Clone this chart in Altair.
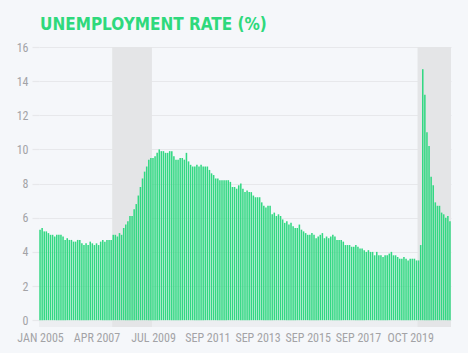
import altair as alt
import pandas as pd

rates = [
    5.3, 5.4, 5.2, 5.2, 5.1, 5.0, 5.0, 4.9, 5.0, 5.0, 5.0, 4.9,   # 2005
    4.7, 4.8, 4.7, 4.7, 4.6, 4.6, 4.7, 4.7, 4.5, 4.4, 4.5, 4.4,   # 2006
    4.6, 4.5, 4.4, 4.5, 4.4, 4.6, 4.7, 4.6, 4.7, 4.7, 4.7, 5.0,   # 2007
    5.0, 4.9, 5.1, 5.0, 5.4, 5.6, 5.8, 6.1, 6.1, 6.5, 6.8, 7.3,   # 2008
    7.8, 8.3, 8.7, 9.0, 9.4, 9.5, 9.5, 9.6, 9.8, 10.0, 9.9, 9.9,  # 2009
    9.8, 9.8, 9.9, 9.9, 9.6, 9.4, 9.4, 9.5, 9.5, 9.4, 9.8, 9.3,   # 2010
    9.1, 9.0, 9.0, 9.1, 9.0, 9.1, 9.0, 9.0, 9.0, 8.8, 8.6, 8.5,   # 2011
    8.3, 8.3, 8.2, 8.2, 8.2, 8.2, 8.2, 8.1, 7.8, 7.8, 7.7, 7.9,   # 2012
    8.0, 7.7, 7.5, 7.6, 7.5, 7.5, 7.3, 7.2, 7.2, 7.2, 6.9, 6.7,   # 2013
    6.6, 6.7, 6.7, 6.2, 6.3, 6.1, 6.2, 6.1, 5.9, 5.7, 5.8, 5.6,   # 2014
    5.7, 5.5, 5.4, 5.4, 5.6, 5.3, 5.2, 5.1, 5.0, 5.0, 5.1, 5.0,   # 2015
    4.8, 4.9, 5.0, 5.1, 4.8, 4.9, 4.8, 4.9, 5.0, 4.9, 4.7, 4.7,   # 2016
    4.7, 4.6, 4.4, 4.4, 4.4, 4.3, 4.3, 4.4, 4.3, 4.2, 4.2, 4.1,   # 2017
    4.0, 4.1, 4.0, 4.0, 3.8, 4.0, 3.8, 3.8, 3.7, 3.8, 3.8, 3.9,   # 2018
    4.0, 3.8, 3.8, 3.7, 3.6, 3.6, 3.7, 3.6, 3.5, 3.6, 3.6, 3.6,   # 2019
    3.5, 3.5, 4.4, 14.7, 13.2, 11.0, 10.2, 8.4, 7.9, 6.9, 6.7, 6.7,  # 2020
    6.3, 6.2, 6.0, 6.1, 5.8,                                       # 2021
]
month_names = ["JAN", "FEB", "MAR", "APR", "MAY", "JUN",
               "JUL", "AUG", "SEP", "OCT", "NOV", "DEC"]
start_year = 2005

tick_labels = ["JAN 2005", "APR 2007", "JUL 2009", "SEP 2011",
               "SEP 2013", "SEP 2015", "SEP 2017", "OCT 2019"]
y_ticks = [0, 2, 4, 6, 8, 10, 12, 14, 16]

recession_starts = ["DEC 2007", "FEB 2020"]
recession_ends = ["JUN 2009", "MAY 2021"]

labels = [f"{month_names[i % 12]} {start_year + i // 12}" for i in range(len(rates))]
index_of = {lab: i for i, lab in enumerate(labels)}

df = pd.DataFrame({"idx": list(range(len(rates))), "label": labels, "rate": rates})
rec = pd.DataFrame({
    "s": [index_of[s] for s in recession_starts],
    "e": [index_of[e] for e in recession_ends],
})
strip = pd.DataFrame({"s": [0], "e": [len(rates) - 1]})

tick_idx = [index_of[t] for t in tick_labels]
label_expr = "''"
for i, t in zip(reversed(tick_idx), reversed(tick_labels)):
    label_expr = f"datum.value == {i} ? '{t}' : ({label_expr})"

xdom = [-0.5, len(rates) - 0.5]
ydom = [-0.4, 16]
FONT = "DejaVu Sans Condensed, Roboto, sans-serif"
LFONT = "Roboto Condensed, DejaVu Sans Condensed, Roboto, sans-serif"

xscale = alt.Scale(domain=xdom, nice=False, zero=False)
yscale = alt.Scale(domain=ydom, nice=False, zero=False)

xaxis = alt.Axis(values=tick_idx, labelExpr=label_expr, title=None,
                 grid=False, ticks=False, domain=False,
                 labelFont=LFONT, labelFontSize=12, labelColor="#a3a3a6",
                 labelPadding=5, labelOverlap=False, labelFlush=False)
yaxis = alt.Axis(values=y_ticks, title=None, domain=False,
                 grid=True, gridColor="#e7e8eb", gridWidth=1.2,
                 ticks=True, tickSize=7, tickColor="#e7e8eb", tickWidth=1.2,
                 labelFont=LFONT, labelFontSize=12, labelColor="#a3a3a6",
                 labelPadding=4)

base_strip = alt.Chart(strip).transform_calculate(
    x0="datum.s - 0.5", x1="datum.e + 0.5", y0="-0.4", y1="0"
).mark_rect(color="#eceef1").encode(
    x=alt.X("x0:Q", scale=xscale, axis=xaxis),
    x2="x1:Q",
    y=alt.Y("y0:Q", scale=yscale, axis=yaxis),
    y2="y1:Q",
)

shade = alt.Chart(rec).transform_calculate(
    x0="datum.s - 0.5", x1="datum.e + 0.5", y0="-0.4", y1="16"
).mark_rect(color="#e4e5e7").encode(
    x=alt.X("x0:Q", scale=xscale, axis=xaxis),
    x2="x1:Q",
    y=alt.Y("y0:Q", scale=yscale, axis=yaxis),
    y2="y1:Q",
)

bars = alt.Chart(df).transform_calculate(
    x0="datum.idx - 0.37", x1="datum.idx + 0.37", zero="0"
).mark_rect(color="#33d883").encode(
    x=alt.X("x0:Q", scale=xscale, axis=xaxis),
    x2="x1:Q",
    y=alt.Y("rate:Q", scale=yscale, axis=yaxis),
    y2="zero:Q",
)

chart = alt.layer(base_strip, shade, bars).properties(
    width=412, height=280,
    background="#f5f7fa",
    padding={"left": 39, "top": 47, "right": 17, "bottom": 26},
    autosize=alt.AutoSizeParams(type="none"),
    title=alt.TitleParams("UNEMPLOYMENT RATE (%)", anchor="start", frame="group",
                          font=FONT, fontSize=17, fontWeight="bold", color="#2ed97c",
                          offset=7, dx=1),
).configure_view(stroke=None)

chart.save("out.html", embed_options={"renderer": "svg", "actions": False})
